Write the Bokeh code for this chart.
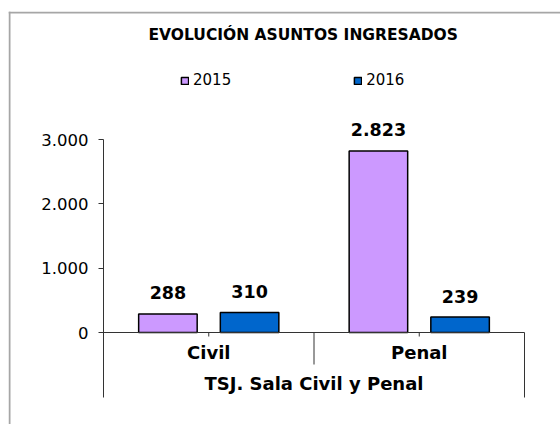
from bokeh.plotting import figure
from bokeh.models import (Range1d, LinearAxis, FixedTicker, Legend, LegendItem,
                          ColumnDataSource, Label, BoxAnnotation, Node)
from bokeh.core.properties import value
from bokeh.embed import file_html
from bokeh.resources import INLINE

# ---- data ----
title_text = "EVOLUCIÓN ASUNTOS INGRESADOS"
group_label = "TSJ. Sala Civil y Penal"
categories = ["Civil", "Penal"]
series_names = ["2015", "2016"]
values_2015 = [288, 2823]
values_2016 = [310, 239]
y_ticks = [0, 1000, 2000, 3000]
y_tick_labels = ["0", "1.000", "2.000", "3.000"]

# ---- layout constants ----
FONT = "DejaVu Sans"
PX_PER_CAT = 210.5          # pixels per category
PX_PER_UNIT = 193 / 3000    # pixels per value unit
FRAME_W, FRAME_H = 552, 413
AXIS_X = 95                 # px from frame left to the value axis
ZERO_FROM_TOP = 321         # px from frame top to value 0
def px(v):                  # pixels -> value units
    return v / PX_PER_UNIT

n = len(categories)
x_start = -AXIS_X / PX_PER_CAT
x_end = (FRAME_W - AXIS_X) / PX_PER_CAT
y_end = px(ZERO_FROM_TOP)
y_start = -px(FRAME_H - ZERO_FROM_TOP)

p = figure(frame_width=FRAME_W, frame_height=FRAME_H,
           x_range=Range1d(x_start, x_end), y_range=Range1d(y_start, y_end),
           output_backend="svg", toolbar_location=None,
           x_axis_location=None, y_axis_location=None,
           min_border_left=0, min_border_top=0,
           min_border_right=0, min_border_bottom=0)
p.grid.visible = False
p.outline_line_color = None
p.background_fill_color = "white"
p.border_fill_color = "white"
p.styles = {"margin-top": "11px", "margin-left": "8px"}

# chart-area border (top and left edges)
p.add_layout(BoxAnnotation(
    left=Node(target="frame", symbol="left"), right=Node(target="frame", symbol="right"),
    top=Node(target="frame", symbol="top"), bottom=Node(target="frame", symbol="top", offset=2),
    fill_color="#A6A6A6", fill_alpha=1.0, line_color=None, level="underlay"))
p.add_layout(BoxAnnotation(
    left=Node(target="frame", symbol="left"), right=Node(target="frame", symbol="left", offset=2),
    top=Node(target="frame", symbol="top"), bottom=Node(target="frame", symbol="bottom"),
    fill_color="#A6A6A6", fill_alpha=1.0, line_color=None, level="underlay"))

# title
p.add_layout(Label(x=140, y=FRAME_H - 23.5, x_units="screen", y_units="screen",
                   text=title_text, text_align="left", text_baseline="middle",
                   text_font=FONT, text_font_size="15.5px", text_font_style="bold",
                   text_color="#000000"))

# y axis (drawn at x = 0 inside the chart area)
yaxis = LinearAxis(ticker=FixedTicker(ticks=y_ticks),
                   major_label_overrides={t: l for t, l in zip(y_ticks, y_tick_labels)},
                   bounds=(-px(65), y_ticks[-1]), fixed_location=0)
yaxis.major_tick_out = 5
yaxis.major_tick_in = 0
yaxis.minor_tick_out = 0
yaxis.minor_tick_in = 0
yaxis.major_label_standoff = 10
yaxis.major_label_text_font = FONT
yaxis.major_label_text_font_size = "16.5px"
yaxis.major_label_text_color = "#000000"
yaxis.axis_line_color = "#333333"
yaxis.major_tick_line_color = "#333333"
p.add_layout(yaxis, "left")

# bars
BAR_W = 0.278
OFF = 0.194
colors = ["#CC99FF", "#0066CC"]
renderers = []
for k, (name, vals) in enumerate(zip(series_names, [values_2015, values_2016])):
    off = -OFF if k == 0 else OFF
    xs = [i + 0.5 + off for i in range(n)]
    labels = [f"{v:,}".replace(",", ".") for v in vals]
    src = ColumnDataSource(dict(x=xs, top=vals, lab=labels))
    r = p.vbar(x="x", top="top", bottom=0, width=BAR_W, source=src,
               fill_color=colors[k], line_color="#000000", line_width=1.5)
    renderers.append(r)
    p.text(x="x", y="top", text="lab", source=src, y_offset=-21,
           text_align="center", text_baseline="middle",
           text_font=value(FONT), text_font_size="17.5px",
           text_font_style="bold", text_color="#000000")

# category axis (drawn in data space)
p.segment(x0=[0], y0=[0], x1=[n], y1=[0], line_color="#333333", line_width=1)
sep_x = list(range(1, n + 1))
sep_y1 = [-px(65) if i == n else -px(32) for i in sep_x]
p.segment(x0=sep_x, y0=[0] * len(sep_x), x1=sep_x, y1=sep_y1,
          line_color="#333333", line_width=1)
mid_x = [i + 0.5 for i in range(n)]
p.segment(x0=mid_x, y0=[0] * n, x1=mid_x, y1=[-px(4)] * n,
          line_color="#333333", line_width=1)
p.text(x=mid_x, y=[-px(20)] * n, text=categories,
       text_align="center", text_baseline="middle",
       text_font=value(FONT), text_font_size="18px", text_font_style="bold",
       text_color="#000000")
p.text(x=[n / 2], y=[-px(51)], text=[group_label],
       text_align="center", text_baseline="middle",
       text_font=value(FONT), text_font_size="18px", text_font_style="bold",
       text_color="#000000")

# legend
legend = Legend(items=[LegendItem(label=nm, renderers=[r])
                       for nm, r in zip(series_names, renderers)],
                orientation="horizontal", location=(AXIS_X + 77, FRAME_H - 78),
                spacing=122, glyph_width=9, glyph_height=9, label_standoff=4,
                padding=0, margin=0, border_line_color=None,
                background_fill_alpha=0, label_height=18)
legend.label_text_font = FONT
legend.label_text_font_size = "15px"
legend.label_text_color = "#000000"
p.add_layout(legend)

open("out.html", "w").write(file_html(p, INLINE))
